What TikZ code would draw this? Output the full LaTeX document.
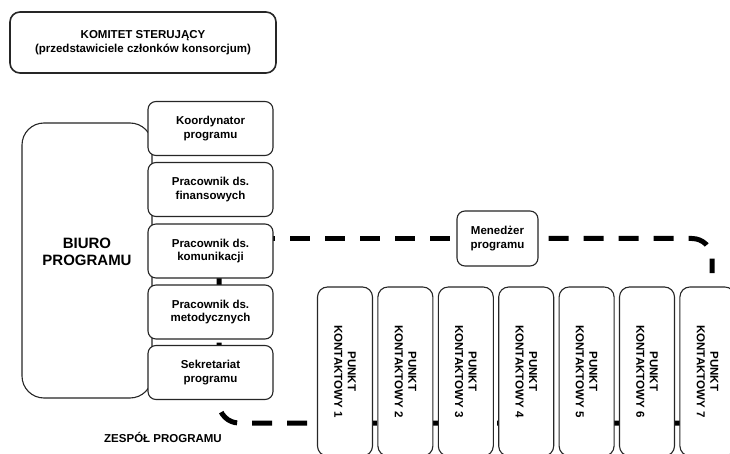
\documentclass[tikz,border=0pt]{standalone}
\usepackage{fontspec}
\setmainfont{Liberation Sans}
\usetikzlibrary{backgrounds}
\tikzset{
    plain box/.style={
        draw=black!85,
        line width=1.1pt,
        fill=white,
        rounded corners=8pt,
        align=center,
        inner sep=0pt,
        font=\bfseries\fontsize{11.5}{13.5}\selectfont
    },
    staff box/.style={plain box, minimum width=125pt, minimum height=54pt},
    contact box/.style={
        plain box,
        rotate=-90,
        rounded corners=10pt,
        minimum width=169pt,
        minimum height=55pt
    },
    team link/.style={line width=5pt, dash pattern=on 20pt off 15pt, rounded corners=20pt}
}

\begin{document}
\begin{tikzpicture}[x=1pt,y=-1pt]
    \useasboundingbox(0,0)rectangle(730,454);

    \node[plain box,line width=1.6pt,rounded corners=10pt,
        minimum width=266pt,minimum height=61pt](komitet)at(143,42.5)
        {KOMITET STERUJĄCY\\(przedstawiciele członków konsorcjum)};

    \node[plain box,rounded corners=22pt,minimum width=130pt,minimum height=275pt](biuro)at(87,260.5){};
    \node[font=\bfseries\fontsize{15}{17}\selectfont,align=center](biurotxt)at(87,252){BIURO\\PROGRAMU};

    \node[staff box](koord)at(210.5,128.5){Koordynator\\programu};
    \node[staff box](fin)at(210.5,189.5){Pracownik ds.\\finansowych};
    \node[staff box](kom)at(210.5,251){Pracownik ds.\\komunikacji};
    \node[staff box](met)at(210.5,312){Pracownik ds.\\metodycznych};
    \node[staff box](sek)at(210.5,372.5){Sekretariat\\programu};

    \node[plain box,minimum width=81pt,minimum height=55pt](men)at(497.5,238.5){Menedżer\\programu};

    \foreach \i in {1,...,7}
        \node[contact box](p\i)at({345+60.4*(\i-1)},371.5){PUNKT\\KONTAKTOWY \i};

    \node[font=\bfseries\fontsize{11.5}{13.5}\selectfont](zespol)at(163,437){ZESPÓŁ PROGRAMU};

    \coordinate(hub)at(219,238.5);
    \coordinate(p7top)at(712,273);
    \coordinate(tail)at(745,423);

    \begin{scope}[on background layer]
        \draw[team link,dash phase=34pt](hub)--(men.west);
        \draw[team link,dash phase=25pt](men.east)-|(p7top);
        \draw[team link,dash phase=1pt](hub)|-(tail);
    \end{scope}
\end{tikzpicture}
\end{document}
